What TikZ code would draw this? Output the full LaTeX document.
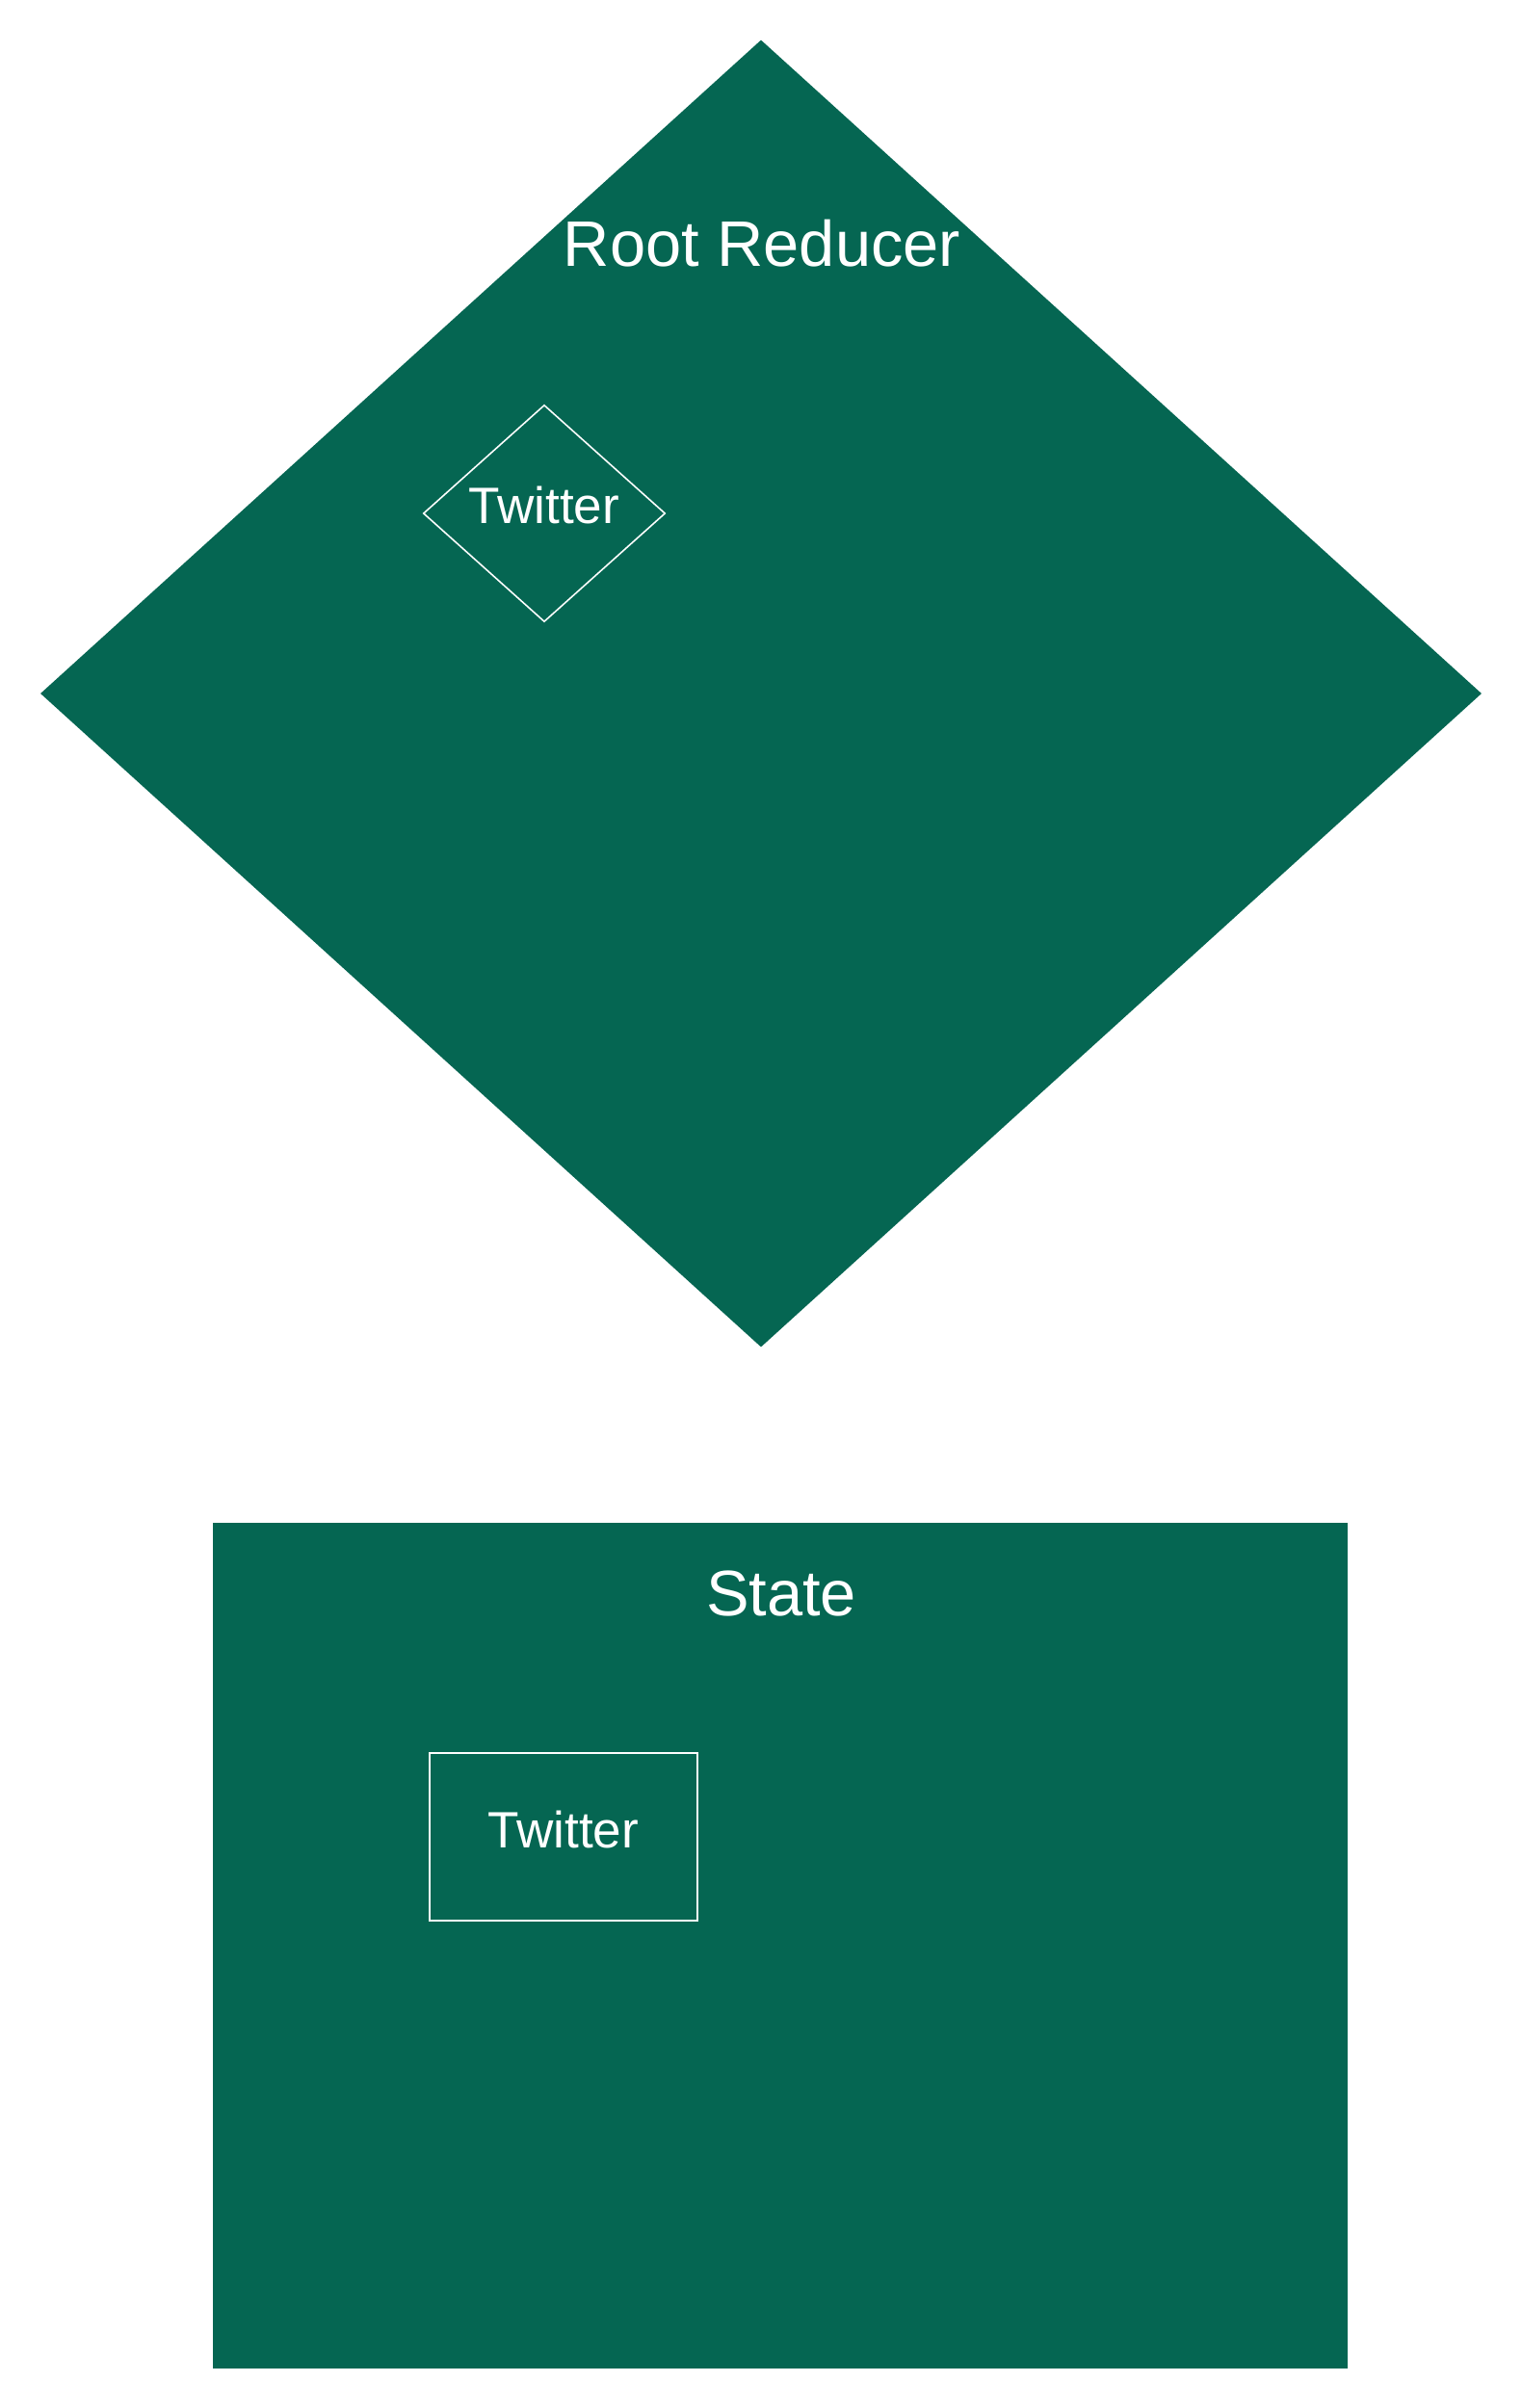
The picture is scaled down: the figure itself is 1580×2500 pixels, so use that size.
\documentclass[tikz,border=0pt]{standalone}
\usepackage{fontspec}
\setmainfont{Liberation Sans}
\usetikzlibrary{shapes.geometric}
\definecolor{reducergreen}{HTML}{056652}
\begin{document}
\begin{tikzpicture}[x=0.01cm,y=-0.01cm]
    \tikzset{bigbox/.style={fill=reducergreen,draw=none,inner sep=0pt,outer sep=0pt},
             innerbox/.style={draw=white,line width=0.45pt,inner sep=0pt},
             titletext/.style={text=white,font=\fontsize{19}{22}\selectfont,anchor=base},
             itemtext/.style={text=white,font=\fontsize{15.1}{18}\selectfont,anchor=base}}
    \useasboundingbox (0,0) rectangle (1580,2500);
    % root reducer
    \node[bigbox,diamond,minimum width=14.95cm,minimum height=13.56cm] (reducer) at (790,720) {};
    \node[titletext] (reducertitle) at (791,277) {Root Reducer};
    \node[innerbox,diamond,minimum width=2.51cm,minimum height=2.25cm] (twitterreducer) at (565,533) {};
    \node[itemtext] (twitterreducertext) at (565,543) {Twitter};
    % state
    \node[bigbox,rectangle,minimum width=11.78cm,minimum height=8.78cm] (state) at (810,2020) {};
    \node[titletext] (statetitle) at (811,1677) {State};
    \node[innerbox,rectangle,minimum width=2.78cm,minimum height=1.74cm] (twitterstate) at (585,1907) {};
    \node[itemtext] (twitterstatetext) at (585,1918) {Twitter};
\end{tikzpicture}
\end{document}
